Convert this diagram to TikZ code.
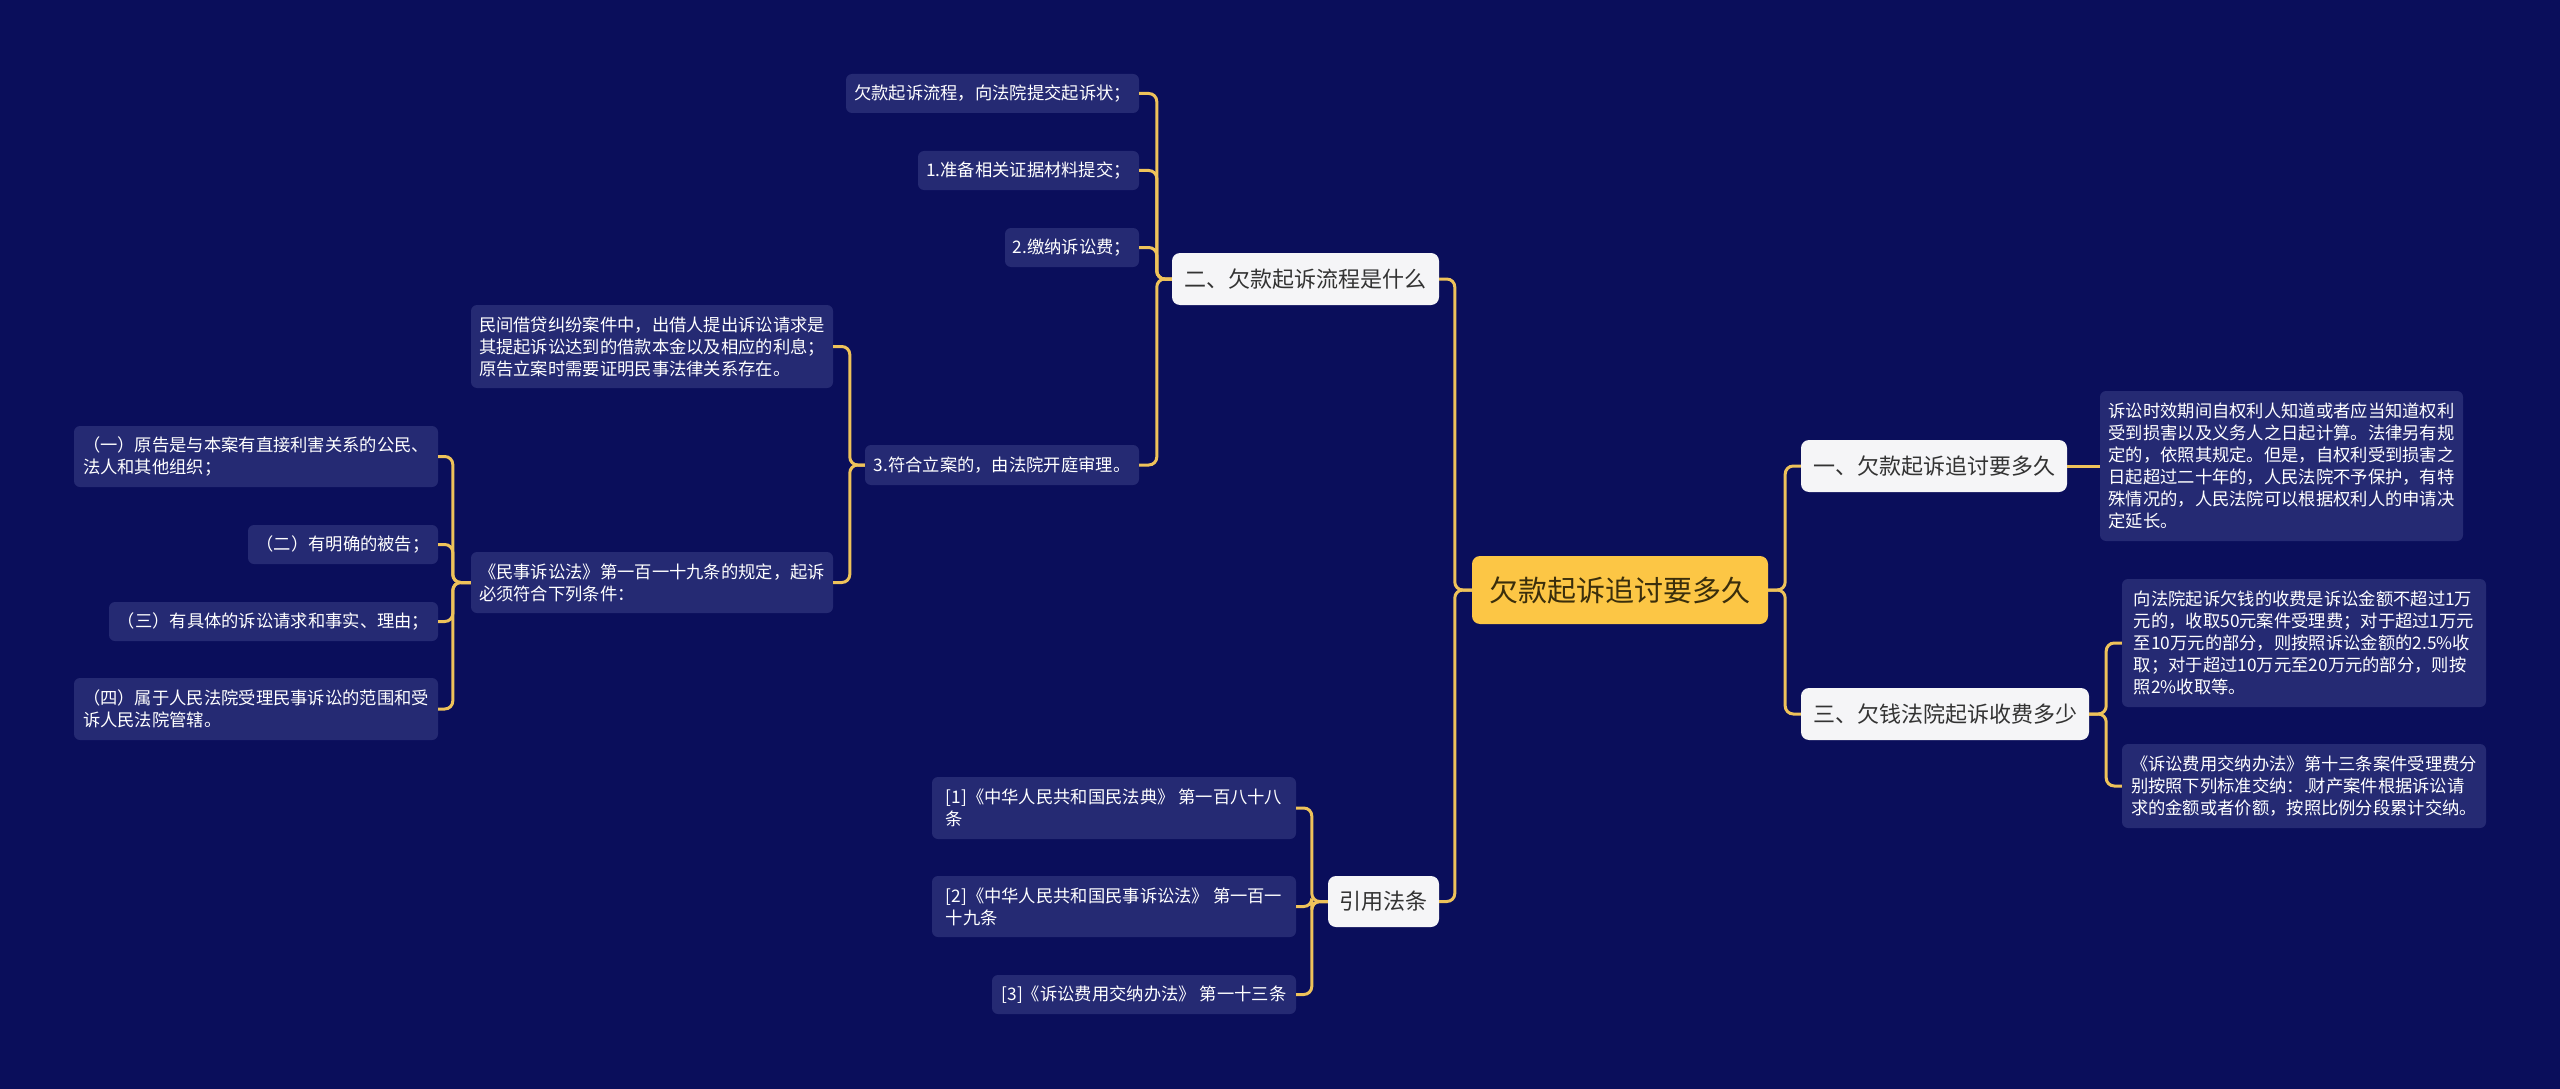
\documentclass[tikz,border=0pt]{standalone}
\usepackage{fontspec}
\newfontfamily\cjk{Noto Sans CJK SC}
\usetikzlibrary{calc}
\definecolor{bg}{HTML}{0A0E5B}
\definecolor{leafc}{HTML}{252A73}
\definecolor{linec}{HTML}{EEC25A}
\definecolor{lonefill}{HTML}{F5F5F7}
\definecolor{lonetext}{HTML}{333333}
\definecolor{rootfill}{HTML}{FCC645}
\definecolor{roottext}{HTML}{3A2E0C}
\tikzset{
  leaf/.style={fill=leafc, text=white, rounded corners=6pt, inner sep=0pt, align=left,
    font=\cjk\fontsize{17.3}{22}\selectfont},
  lone/.style={fill=lonefill, text=lonetext, rounded corners=8pt, inner sep=0pt,
    font=\cjk\fontsize{22}{26}\selectfont},
  rootbox/.style={fill=rootfill, text=roottext, rounded corners=8pt, inner sep=0pt,
    font=\cjk\fontsize{29}{34}\selectfont},
  conn/.style={draw=linec, line width=3pt, rounded corners=8pt},
}
\begin{document}
\begin{tikzpicture}[x=1pt,y=-1pt]
\fill[bg] (0,0) rectangle (2560,1089);
\useasboundingbox (0,0) rectangle (2560,1089);

% root
\node[rootbox, minimum width=296pt, minimum height=68pt] (root) at (1620,590) {欠款起诉追讨要多久};

% level 1
\node[lone, minimum width=267pt, minimum height=52pt] (b2) at (1305.5,279) {二、欠款起诉流程是什么};
\node[lone, minimum width=111pt, minimum height=51pt] (b4) at (1383.5,901.5) {引用法条};
\node[lone, minimum width=266pt, minimum height=52pt] (b1) at (1934,466) {一、欠款起诉追讨要多久};
\node[lone, minimum width=288pt, minimum height=52pt] (b3) at (1945,714) {三、欠钱法院起诉收费多少};

% children of b2
\node[leaf, minimum width=293pt, minimum height=39pt] (c21) at (992.5,93.5) {欠款起诉流程，向法院提交起诉状；};
\node[leaf, minimum width=221pt, minimum height=39pt] (c22) at (1028.5,170.5) {1.准备相关证据材料提交；};
\node[leaf, minimum width=134pt, minimum height=39pt] (c23) at (1072,247.5) {2.缴纳诉讼费；};
\node[leaf, minimum width=274pt, minimum height=40pt] (c24) at (1002,465) {3.符合立案的，由法院开庭审理。};

% children of c24
\node[leaf, minimum width=362pt, minimum height=83pt] (d1) at (652,346.5) {民间借贷纠纷案件中，出借人提出诉讼请求是\\其提起诉讼达到的借款本金以及相应的利息；\\原告立案时需要证明民事法律关系存在。};
\node[leaf, minimum width=362pt, minimum height=61pt] (d2) at (652,582.5) {《民事诉讼法》第一百一十九条的规定，起诉\\必须符合下列条件：};

% children of d2
\node[leaf, minimum width=364pt, minimum height=61pt] (e1) at (256,456.5) {（一）原告是与本案有直接利害关系的公民、\\法人和其他组织；};
\node[leaf, minimum width=190pt, minimum height=39pt] (e2) at (343,544.5) {（二）有明确的被告；};
\node[leaf, minimum width=329pt, minimum height=39pt] (e3) at (273.5,621.5) {（三）有具体的诉讼请求和事实、理由；};
\node[leaf, minimum width=364pt, minimum height=62pt] (e4) at (256,709) {（四）属于人民法院受理民事诉讼的范围和受\\诉人民法院管辖。};

% children of b4
\node[leaf, minimum width=364pt, minimum height=62pt] (r1) at (1114,808) {[1]《中华人民共和国民法典》 第一百八十八\\条};
\node[leaf, minimum width=364pt, minimum height=61pt] (r2) at (1114,906.5) {[2]《中华人民共和国民事诉讼法》 第一百一\\十九条};
\node[leaf, minimum width=304pt, minimum height=39pt] (r3) at (1144,994.5) {[3]《诉讼费用交纳办法》 第一十三条};

% children of b1
\node[leaf, minimum width=363pt, minimum height=150pt] (f1) at (2281.5,466) {诉讼时效期间自权利人知道或者应当知道权利\\受到损害以及义务人之日起计算。法律另有规\\定的，依照其规定。但是，自权利受到损害之\\日起超过二十年的，人民法院不予保护，有特\\殊情况的，人民法院可以根据权利人的申请决\\定延长。};

% children of b3
\node[leaf, minimum width=364pt, minimum height=128pt] (g1) at (2304,643) {向法院起诉欠钱的收费是诉讼金额不超过1万\\元的，收取50元案件受理费；对于超过1万元\\至10万元的部分，则按照诉讼金额的2.5\%收\\取；对于超过10万元至20万元的部分，则按\\照2\%收取等。};
\node[leaf, minimum width=364pt, minimum height=84pt] (g2) at (2304,786) {《诉讼费用交纳办法》第十三条案件受理费分\\别按照下列标准交纳：.财产案件根据诉讼请\\求的金额或者价额，按照比例分段累计交纳。};

% connectors left side
\foreach \c in {b2,b4} \draw[conn] (root.west) -- ++(-17,0) |- (\c.east);
\foreach \c in {c21,c22,c23,c24} \draw[conn] (b2.west) -- ++(-15,0) |- (\c.east);
\foreach \c in {d1,d2} \draw[conn] (c24.west) -- ++(-15,0) |- (\c.east);
\foreach \c in {e1,e2,e3,e4} \draw[conn] (d2.west) -- ++(-18,0) |- (\c.east);
\foreach \c in {r1,r2,r3} \draw[conn] (b4.west) -- ++(-16,0) |- (\c.east);
% connectors right side
\foreach \c in {b1,b3} \draw[conn] (root.east) -- ++(17,0) |- (\c.west);
\draw[conn] (b1.east) -- (f1.west);
\foreach \c in {g1,g2} \draw[conn] (b3.east) -- ++(17,0) |- (\c.west);
\end{tikzpicture}
\end{document}
